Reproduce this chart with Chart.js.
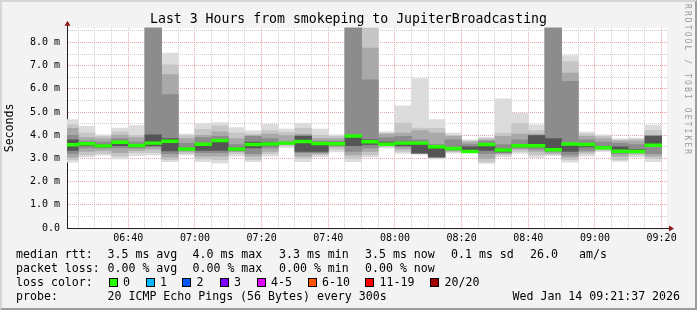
<!DOCTYPE html>
<html>
<head>
<meta charset="utf-8">
<script src="https://cdn.jsdelivr.net/npm/chart.js@4.4.1/dist/chart.umd.min.js"></script>
<style>
  html, body { margin: 0; padding: 0; background: #f3f3f3; }
  #wrap { position: relative; width: 697px; height: 310px; overflow: hidden; background: #f3f3f3;
          font-family: 'DejaVu Sans Mono', monospace; color: #000; }
  #chart { position: absolute; left: 0; top: 0; }
  .lg { position: absolute; font-size: 11.6px; line-height: 14px; white-space: pre; }
  .box { position: absolute; width: 7px; height: 7px; border: 1px solid #000; }
  #vtext { position: absolute; left: 683px; top: 4px; writing-mode: vertical-rl; font-size: 8px;
           letter-spacing: 2.1px; color: #9a9a9a; white-space: pre; }
  #frame { position: absolute; left: 0; top: 0; width: 697px; height: 310px; box-sizing: border-box;
           border-style: solid; border-width: 2px; border-color: #d6d6d6 #9c9c9c #9c9c9c #d6d6d6; pointer-events: none; }
</style>
</head>
<body>
<div id="wrap">
  <canvas id="chart" width="697" height="310"></canvas>

  <span class="lg" style="left:16px;top:247px">median rtt:</span>
  <span class="lg" style="left:107.5px;top:247px">3.5 ms avg</span>
  <span class="lg" style="left:192.5px;top:247px">4.0 ms max</span>
  <span class="lg" style="left:279px;top:247px">3.3 ms min</span>
  <span class="lg" style="left:365px;top:247px">3.5 ms now</span>
  <span class="lg" style="left:451px;top:247px">0.1 ms sd</span>
  <span class="lg" style="left:530px;top:247px">26.0</span>
  <span class="lg" style="left:579px;top:247px">am/s</span>

  <span class="lg" style="left:16px;top:261px">packet loss:</span>
  <span class="lg" style="left:107.5px;top:261px">0.00 % avg</span>
  <span class="lg" style="left:192.5px;top:261px">0.00 % max</span>
  <span class="lg" style="left:279px;top:261px">0.00 % min</span>
  <span class="lg" style="left:365px;top:261px">0.00 % now</span>

  <span class="lg" style="left:16px;top:275px">loss color:</span>
  <div id="lossLegend"></div>

  <span class="lg" style="left:16px;top:289px">probe:</span>
  <span class="lg" style="left:107.5px;top:289px">20 ICMP Echo Pings (56 Bytes) every 300s</span>
  <span class="lg" style="left:512.5px;top:289px">Wed Jan 14 09:21:37 2026</span>

  <div id="vtext">RRDTOOL / TOBI OETIKER</div>
  <div id="frame"></div>
</div>

<script>
'use strict';

const MONO = "'DejaVu Sans Mono', monospace";
const chartTitle = 'Last 3 Hours from smokeping to JupiterBroadcasting';

// 5 minute bins (start time of each step)
const binStarts = [
  '06:20', '06:25', '06:30', '06:35', '06:40', '06:45', '06:50', '06:55', '07:00',
  '07:05', '07:10', '07:15', '07:20', '07:25', '07:30', '07:35', '07:40', '07:45',
  '07:50', '07:55', '08:00', '08:05', '08:10', '08:15', '08:20', '08:25', '08:30',
  '08:35', '08:40', '08:45', '08:50', '08:55', '09:00', '09:05', '09:10', '09:15'
];

// median rtt per bin (ms)
const medianRtt = [
  3.59, 3.63, 3.54, 3.70, 3.56, 3.66, 3.74, 3.41, 3.61,
  3.77, 3.41, 3.60, 3.62, 3.66, 3.73, 3.64, 3.63, 3.97,
  3.72, 3.61, 3.66, 3.66, 3.50, 3.43, 3.30, 3.60, 3.36,
  3.55, 3.55, 3.37, 3.62, 3.60, 3.46, 3.31, 3.30, 3.57
];

// smoke bands, outermost (min/max) to innermost, [low, high] in ms
const smoke1 = [
  [2.84, 4.67], [3.07, 4.38], [3.14, 4.02], [2.98, 4.31], [3.12, 4.42], [3.15, 12], [2.86, 7.54], [3.15, 4.05], [2.86, 4.50],
  [2.79, 4.54], [3.10, 4.33], [2.86, 4.19], [3.10, 4.47], [3.46, 4.26], [2.86, 4.51], [3.07, 4.26], [3.28, 4.02], [2.86, 12],
  [3.07, 9.5], [3.45, 4.15], [3.22, 5.27], [3.18, 6.44], [2.98, 4.67], [3.23, 4.09], [3.25, 3.80], [2.78, 3.91], [3.07, 5.57],
  [3.22, 4.96], [3.04, 4.45], [3.12, 12], [2.84, 7.43], [3.10, 4.14], [3.30, 4.02], [2.87, 3.84], [3.07, 3.88], [2.86, 4.44]
];
const smoke2 = [
  [2.95, 4.45], [3.15, 4.10], [3.22, 3.95], [3.10, 4.15], [3.25, 4.00], [3.25, 12], [2.95, 7.04], [3.22, 3.98], [2.98, 4.25],
  [2.95, 4.40], [3.20, 4.10], [2.95, 4.05], [3.20, 4.20], [3.55, 4.12], [3.00, 4.30], [3.15, 4.00], [3.40, 3.95], [3.00, 12],
  [3.15, 9.0], [3.50, 4.08], [3.30, 4.52], [3.19, 4.31], [3.02, 4.30], [3.28, 4.00], [3.27, 3.75], [2.85, 3.85], [3.15, 4.09],
  [3.30, 4.50], [3.15, 4.20], [3.18, 12], [2.95, 7.18], [3.20, 4.05], [3.35, 3.95], [2.95, 3.80], [3.15, 3.82], [3.00, 4.20]
];
const smoke3 = [
  [3.05, 4.30], [3.30, 3.90], [3.35, 3.85], [3.25, 4.00], [3.35, 3.90], [3.40, 11], [3.05, 6.61], [3.30, 3.85], [3.10, 4.00],
  [3.10, 4.15], [3.30, 3.85], [3.10, 3.98], [3.30, 4.05], [3.60, 3.98], [3.10, 4.05], [3.20, 3.85], [3.50, 3.85], [3.15, 11],
  [3.30, 7.76], [3.55, 4.05], [3.40, 4.09], [3.20, 4.20], [3.04, 4.10], [3.32, 3.95], [3.28, 3.70], [3.00, 3.80], [3.20, 3.95],
  [3.40, 4.05], [3.30, 4.05], [3.22, 11], [3.05, 6.68], [3.28, 3.95], [3.40, 3.85], [3.10, 3.75], [3.22, 3.75], [3.10, 4.00]
];
const smoke4 = [
  [3.20, 4.00], [3.45, 3.75], [3.45, 3.70], [3.45, 3.85], [3.45, 3.70], [3.50, 10], [3.20, 5.75], [3.35, 3.65], [3.25, 3.90],
  [3.25, 3.95], [3.32, 3.60], [3.20, 3.95], [3.45, 3.85], [3.62, 3.72], [3.25, 4.00], [3.25, 3.75], [3.55, 3.75], [3.30, 10],
  [3.45, 6.39], [3.58, 3.90], [3.50, 3.95], [3.22, 3.80], [3.05, 3.60], [3.36, 3.80], [3.30, 3.60], [3.20, 3.75], [3.25, 3.60],
  [3.45, 3.80], [3.40, 4.00], [3.30, 10], [3.15, 6.32], [3.35, 3.80], [3.42, 3.70], [3.20, 3.65], [3.27, 3.60], [3.20, 3.98]
];
const smoke5 = [
  [3.35, 3.80], [3.55, 3.68], [3.48, 3.58], [3.55, 3.72], [3.50, 3.60], [3.55, 4.02], [3.32, 3.86], [3.38, 3.45], [3.35, 3.65],
  [3.35, 3.80], [3.35, 3.45], [3.45, 3.70], [3.55, 3.68], [3.64, 3.69], [3.30, 3.95], [3.30, 3.65], [3.58, 3.68], [3.55, 3.93],
  [3.60, 3.80], [3.60, 3.70], [3.55, 3.70], [3.24, 3.60], [3.06, 3.45], [3.40, 3.45], [3.33, 3.50], [3.35, 3.55], [3.28, 3.40],
  [3.50, 3.60], [3.50, 3.98], [3.35, 3.86], [3.30, 3.60], [3.50, 3.65], [3.44, 3.50], [3.28, 3.50], [3.29, 3.38], [3.60, 3.95]
];

const xTickLabels = ['06:40', '07:00', '07:20', '07:40', '08:00', '08:20', '08:40', '09:00', '09:20'];
const yTickLabels = ['0.0', '1.0 m', '2.0 m', '3.0 m', '4.0 m', '5.0 m', '6.0 m', '7.0 m', '8.0 m'];

const lossLabels = ['0', '1', '2', '3', '4-5', '6-10', '11-19', '20/20'];
const lossColors = ['#26ff00', '#00b8ff', '#0059ff', '#7e00ff', '#dd00ff', '#ff5500', '#ff0000', '#a10000'];

// graph window: 3 hours ending Wed Jan 14 09:21:37
const windowEnd = '09:21:37';
const yMax = 8.63;

function toMinutes(t) {
  const p = t.split(':').map(Number);
  return (p[0] - 6) * 60 + p[1] + (p[2] || 0) / 60;
}

const axisEnd = toMinutes(windowEnd);
const axisStart = axisEnd - 180;
const binCenters = binStarts.map(t => toMinutes(t) + 2.5);
const gridMinutes = binStarts.slice(1).map(toMinutes).concat([toMinutes(binStarts[binStarts.length - 1]) + 5]);
const majorMinutes = xTickLabels.map(toMinutes);

const RED_GRID = '#eba4a4';
const GRAY_GRID = '#cdcdcd';

function bandData(pairs) {
  return pairs.map((p, i) => ({ x: binCenters[i], y: p }));
}

function bandSet(pairs, color, order) {
  return {
    data: bandData(pairs),
    backgroundColor: color,
    borderWidth: 0,
    grouped: false,
    barPercentage: 1,
    categoryPercentage: 1,
    order: order,
    clip: 0,
  };
}

const medianBand = medianRtt.map(m => [m - 0.06, m + 0.06]);

const datasets = [
  bandSet(medianBand, '#26ff00', 0),
  bandSet(smoke5, '#555555', 1),
  bandSet(smoke4, '#8c8c8c', 2),
  bandSet(smoke3, '#a9a9a9', 3),
  bandSet(smoke2, '#c6c6c6', 4),
  bandSet(smoke1, '#dcdcdc', 5),
];

const plotBackground = {
  id: 'plotBackground',
  beforeDraw(chart) {
    const { ctx, chartArea: a } = chart;
    ctx.save();
    ctx.fillStyle = '#ffffff';
    ctx.fillRect(a.left, a.top, a.right - a.left, a.bottom - a.top);
    ctx.restore();
  }
};

const axisArrows = {
  id: 'axisArrows',
  afterDraw(chart) {
    const { ctx, chartArea: a } = chart;
    const x0 = Math.round(a.left) + 0.5;
    const y0 = Math.round(a.bottom) + 0.5;
    ctx.save();
    ctx.strokeStyle = '#222';
    ctx.lineWidth = 1;
    ctx.beginPath();
    ctx.moveTo(x0, a.top);
    ctx.lineTo(x0, a.top - 4);
    ctx.moveTo(a.right, y0);
    ctx.lineTo(a.right + 3, y0);
    ctx.stroke();
    ctx.fillStyle = '#8b1a1a';
    ctx.beginPath();
    ctx.moveTo(x0, a.top - 7);
    ctx.lineTo(x0 - 3, a.top - 2);
    ctx.lineTo(x0 + 3, a.top - 2);
    ctx.closePath();
    ctx.fill();
    ctx.beginPath();
    ctx.moveTo(a.right + 7, y0);
    ctx.lineTo(a.right + 2, y0 - 3);
    ctx.lineTo(a.right + 2, y0 + 3);
    ctx.closePath();
    ctx.fill();
    ctx.restore();
  }
};

const tickFont = { family: MONO, size: 10 };

new Chart(document.getElementById('chart').getContext('2d'), {
  type: 'bar',
  data: { datasets },
  options: {
    responsive: false,
    animation: false,
    layout: { padding: { left: 0, right: 0, top: 0, bottom: 62 } },
    plugins: {
      legend: { display: false },
      tooltip: { enabled: false },
      title: {
        display: true,
        text: chartTitle,
        color: '#000',
        font: { family: MONO, size: 13.2, weight: 'normal' },
        padding: { top: 12, bottom: 0 },
      },
    },
    scales: {
      x: {
        type: 'linear',
        min: axisStart,
        max: axisEnd,
        offset: false,
        afterBuildTicks: axis => { axis.ticks = gridMinutes.map(v => ({ value: v })); },
        afterFit: axis => { axis.height = 20; },
        grid: {
          offset: false,
          drawTicks: false,
          lineWidth: 1,
          color: c => majorMinutes.some(m => Math.abs(m - c.tick.value) < 0.01) ? RED_GRID : GRAY_GRID,
        },
        border: { display: true, color: '#222', width: 1, dash: [1, 1] },
        ticks: {
          autoSkip: false,
          maxRotation: 0,
          minRotation: 0,
          padding: 4,
          color: '#000',
          font: tickFont,
          callback: v => {
            const i = majorMinutes.findIndex(m => Math.abs(m - v) < 0.01);
            return i >= 0 ? xTickLabels[i] : '';
          },
        },
      },
      y: {
        min: 0,
        max: yMax,
        afterBuildTicks: axis => {
          const t = [];
          for (let i = 0; i < yTickLabels.length * 2; i++) t.push({ value: i / 2 });
          axis.ticks = t;
        },
        afterFit: axis => { axis.width = 67; },
        grid: {
          drawTicks: false,
          lineWidth: 1,
          color: c => c.tick.value === 0 ? 'rgba(0,0,0,0)' : (Number.isInteger(c.tick.value) ? RED_GRID : GRAY_GRID),
        },
        border: { display: true, color: '#222', width: 1, dash: [1, 1] },
        title: {
          display: true,
          text: 'Seconds',
          color: '#000',
          font: { family: MONO, size: 11.6 },
          padding: { top: 3, bottom: 0 },
        },
        ticks: {
          padding: 7,
          color: '#000',
          font: tickFont,
          autoSkip: false,
          callback: v => Number.isInteger(v) ? yTickLabels[v] : '',
        },
      },
      // empty margin on the right, keeps the title centred on the full image
      yRight: {
        position: 'right',
        min: 0,
        max: 1,
        afterFit: axis => { axis.width = 30; },
        grid: { drawOnChartArea: false, drawTicks: false },
        border: { display: false },
        ticks: { display: false },
      },
    },
  },
  plugins: [plotBackground, axisArrows],
});

// loss colour legend
const boxLeft = [108.5, 145.5, 182, 219.5, 256.5, 307.5, 365, 430];
const lossHost = document.getElementById('lossLegend');
lossLabels.forEach((label, i) => {
  const box = document.createElement('div');
  box.className = 'box';
  box.style.left = boxLeft[i] + 'px';
  box.style.top = '278px';
  box.style.background = lossColors[i];
  lossHost.appendChild(box);
  const txt = document.createElement('span');
  txt.className = 'lg';
  txt.style.left = (boxLeft[i] + 14.5) + 'px';
  txt.style.top = '275px';
  txt.textContent = label;
  lossHost.appendChild(txt);
});
</script>
</body>
</html>
